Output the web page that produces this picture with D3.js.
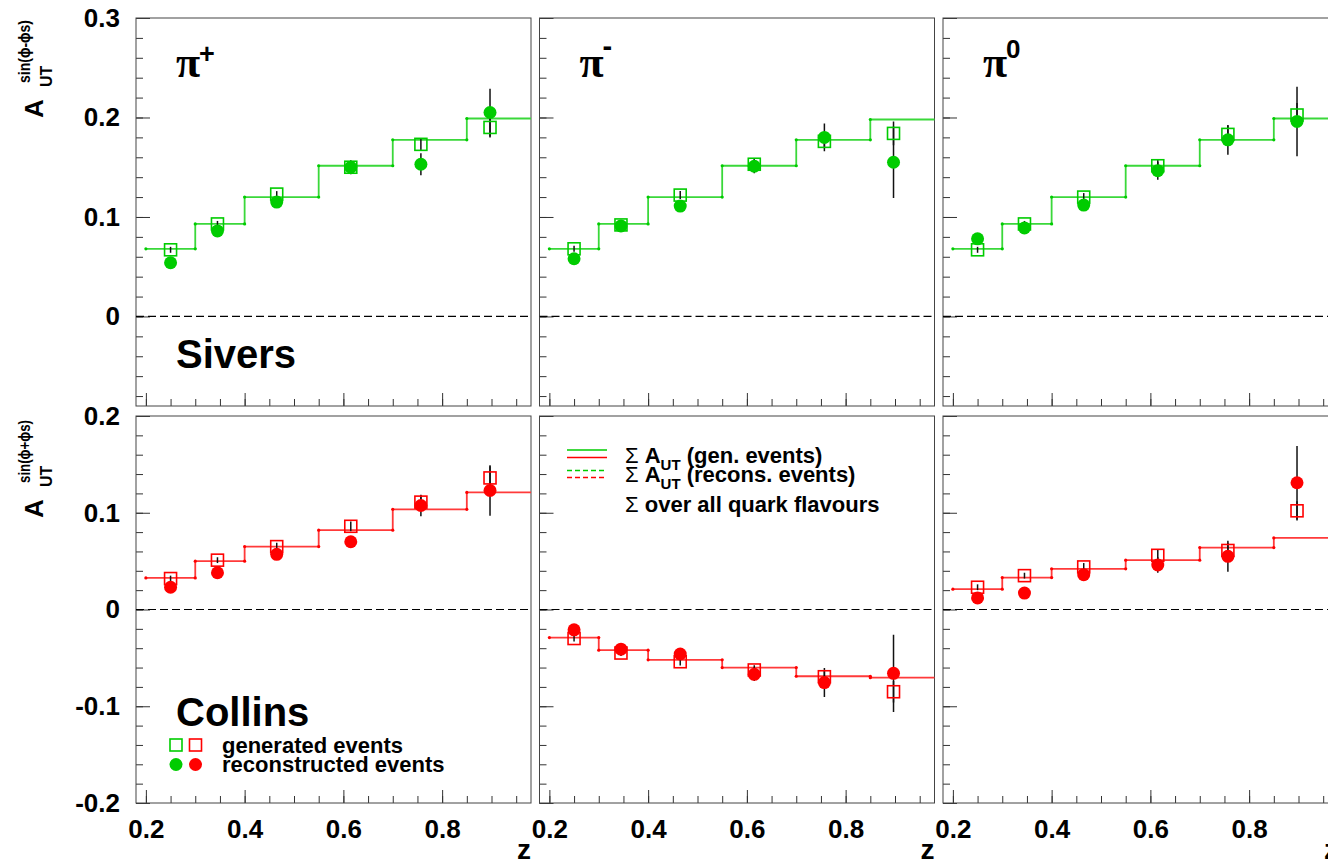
<!DOCTYPE html>
<html>
<head>
<meta charset="utf-8">
<script src="https://cdn.jsdelivr.net/npm/d3@7"></script>
<style>
  body { margin: 0; background: #fff; }
  svg { display: block; font-family: "Liberation Sans", Arial, sans-serif; }
</style>
</head>
<body>
<svg id="chart" width="1328" height="862"></svg>
<script>
// bin centres (z) and histogram bin edges
const zBins = [0.25, 0.345, 0.465, 0.615, 0.757, 0.897];
const binEdges = [0.2, 0.3, 0.4, 0.55, 0.7, 0.85, 1.0];
const pions = ["+", "-", "0"];

// Sivers, pi+
const sivPipHist = [0.068, 0.093, 0.120, 0.1515, 0.1775, 0.199];
const sivPipGen = [0.067, 0.093, 0.123, 0.150, 0.173, 0.190];
const sivPipGenErr = [0.003, 0.003, 0.003, 0.004, 0.006, 0.010];
const sivPipRec = [0.054, 0.086, 0.115, 0.150, 0.153, 0.205];
const sivPipRecErr = [0.004, 0.004, 0.005, 0.007, 0.011, 0.024];
// Sivers, pi-
const sivPimHist = [0.068, 0.093, 0.120, 0.1515, 0.1775, 0.198];
const sivPimGen = [0.068, 0.092, 0.122, 0.153, 0.176, 0.184];
const sivPimGenErr = [0.003, 0.003, 0.004, 0.005, 0.007, 0.012];
const sivPimRec = [0.058, 0.091, 0.111, 0.151, 0.180, 0.155];
const sivPimRecErr = [0.004, 0.004, 0.005, 0.007, 0.014, 0.036];
// Sivers, pi0
const sivPi0Hist = [0.068, 0.093, 0.120, 0.1515, 0.1775, 0.199];
const sivPi0Gen = [0.067, 0.093, 0.120, 0.1515, 0.183, 0.2025];
const sivPi0GenErr = [0.003, 0.003, 0.004, 0.006, 0.009, 0.012];
const sivPi0Rec = [0.078, 0.089, 0.112, 0.1465, 0.1775, 0.196];
const sivPi0RecErr = [0.005, 0.005, 0.006, 0.009, 0.015, 0.035];

// Collins, pi+
const colPipHist = [0.0326, 0.050, 0.065, 0.082, 0.1035, 0.121];
const colPipGen = [0.032, 0.051, 0.065, 0.086, 0.111, 0.136];
const colPipGenErr = [0.003, 0.003, 0.004, 0.005, 0.007, 0.012];
const colPipRec = [0.023, 0.038, 0.057, 0.070, 0.1075, 0.123];
const colPipRecErr = [0.004, 0.004, 0.005, 0.006, 0.011, 0.026];
// Collins, pi-
const colPimHist = [-0.029, -0.042, -0.052, -0.060, -0.069, -0.0705];
const colPimGen = [-0.030, -0.045, -0.054, -0.0625, -0.0695, -0.085];
const colPimGenErr = [0.003, 0.003, 0.004, 0.005, 0.007, 0.011];
const colPimRec = [-0.021, -0.041, -0.046, -0.067, -0.0755, -0.066];
const colPimRecErr = [0.004, 0.004, 0.005, 0.007, 0.015, 0.040];
// Collins, pi0
const colPi0Hist = [0.021, 0.033, 0.042, 0.051, 0.064, 0.074];
const colPi0Gen = [0.023, 0.035, 0.044, 0.056, 0.061, 0.102];
const colPi0GenErr = [0.003, 0.003, 0.004, 0.006, 0.008, 0.010];
const colPi0Rec = [0.012, 0.017, 0.036, 0.046, 0.055, 0.131];
const colPi0RecErr = [0.004, 0.004, 0.005, 0.008, 0.016, 0.038];

// axis ticks
const xMajor = [0.2, 0.4, 0.6, 0.8];
const xMinor = d3.range(0.2, 0.98, 0.05);
const topMajor = [0, 0.1, 0.2, 0.3];
const topMinor = d3.range(-0.08, 0.301, 0.02);
const botMajor = [-0.2, -0.1, 0, 0.1, 0.2];
const botMinor = d3.range(-0.2, 0.201, 0.02);

const GREEN = "#00cc00", GREEN_LINE = "#3ad83a";
const RED = "#ff0000", RED_LINE = "#ff3a3a";

const svg = d3.select("#chart");
const panelLefts = [136, 539.5, 943];
const panelW = 395;
const rows = [
  { top: 18, bottom: 406, domain: [-0.09, 0.3], major: topMajor, minor: topMinor, color: GREEN, line: GREEN_LINE,
    sets: [
      [sivPipHist, sivPipGen, sivPipGenErr, sivPipRec, sivPipRecErr],
      [sivPimHist, sivPimGen, sivPimGenErr, sivPimRec, sivPimRecErr],
      [sivPi0Hist, sivPi0Gen, sivPi0GenErr, sivPi0Rec, sivPi0RecErr]
    ] },
  { top: 416, bottom: 803, domain: [-0.2, 0.2], major: botMajor, minor: botMinor, color: RED, line: RED_LINE,
    sets: [
      [colPipHist, colPipGen, colPipGenErr, colPipRec, colPipRecErr],
      [colPimHist, colPimGen, colPimGenErr, colPimRec, colPimRecErr],
      [colPi0Hist, colPi0Gen, colPi0GenErr, colPi0Rec, colPi0RecErr]
    ] }
];

const fmt = d => d === 0 ? "0" : String(+d.toFixed(1));
const styleAxis = g => {
  g.select(".domain").remove();
  g.selectAll("line").attr("stroke", "#333").attr("stroke-width", 1);
  g.selectAll("text").attr("fill", "#000").attr("font-weight", "bold")
    .attr("font-size", 26).attr("font-family", "Liberation Sans, Arial, sans-serif");
};

rows.forEach((row, ri) => {
  const y = d3.scaleLinear().domain(row.domain).range([row.bottom, row.top]);
  panelLefts.forEach((left, pi) => {
    const x = d3.scaleLinear().domain([0.18, 0.98]).range([left, left + panelW]);
    const [hist, gen, genErr, rec, recErr] = row.sets[pi];
    const clipId = `clip-${ri}-${pi}`;
    svg.append("clipPath").attr("id", clipId).append("rect")
      .attr("x", left).attr("y", row.top).attr("width", panelW).attr("height", row.bottom - row.top);

    const g = svg.append("g");

    // minor ticks
    g.append("g").attr("transform", `translate(${left},0)`)
      .call(d3.axisLeft(y).tickValues(row.minor).tickSize(-7).tickFormat("").tickSizeOuter(0))
      .call(styleAxis);
    g.append("g").attr("transform", `translate(0,${row.bottom})`)
      .call(d3.axisBottom(x).tickValues(xMinor).tickSize(-7).tickFormat("").tickSizeOuter(0))
      .call(styleAxis);
    // major ticks
    g.append("g").attr("transform", `translate(${left},0)`)
      .call(d3.axisLeft(y).tickValues(row.major).tickSize(-14).tickPadding(16).tickSizeOuter(0)
        .tickFormat(pi === 0 ? fmt : ""))
      .call(styleAxis);
    g.append("g").attr("transform", `translate(0,${row.bottom})`)
      .call(d3.axisBottom(x).tickValues(xMajor).tickSize(-13).tickPadding(17).tickSizeOuter(0)
        .tickFormat(ri === 1 ? d3.format(".1f") : ""))
      .call(styleAxis);

    // frame
    g.append("rect").attr("x", left).attr("y", row.top).attr("width", panelW)
      .attr("height", row.bottom - row.top).attr("fill", "none").attr("stroke", "#444").attr("stroke-width", 1);

    const plot = g.append("g").attr("clip-path", `url(#${clipId})`);

    // zero line
    plot.append("line").attr("x1", left).attr("x2", left + panelW)
      .attr("y1", y(0)).attr("y2", y(0))
      .attr("stroke", "#000").attr("stroke-width", 1.2).attr("stroke-dasharray", "8,4");

    // summed asymmetry histogram
    const steps = binEdges.map((e, i) => [e, hist[Math.min(i, hist.length - 1)]]);
    plot.append("path").datum(steps)
      .attr("d", d3.line().x(d => x(d[0])).y(d => y(d[1])).curve(d3.curveStepAfter))
      .attr("fill", "none").attr("stroke", row.line).attr("stroke-width", 1.8);
    const ends = hist.flatMap((v, i) => [[binEdges[i], v], [binEdges[i + 1], v]]);
    plot.selectAll(".dot").data(ends).join("circle")
      .attr("cx", d => x(d[0])).attr("cy", d => y(d[1])).attr("r", 1.6).attr("fill", row.color);

    // error bars
    const errs = zBins.flatMap((z, i) => [[z, gen[i], genErr[i]], [z, rec[i], recErr[i]]]);
    plot.selectAll(".err").data(errs).join("line")
      .attr("x1", d => x(d[0])).attr("x2", d => x(d[0]))
      .attr("y1", d => y(d[1] - d[2])).attr("y2", d => y(d[1] + d[2]))
      .attr("stroke", "#111").attr("stroke-width", 1.5);

    // generated events: open squares
    plot.selectAll(".gen").data(zBins).join("rect")
      .attr("x", (d, i) => x(d) - 6).attr("y", (d, i) => y(gen[i]) - 6)
      .attr("width", 12).attr("height", 12)
      .attr("fill", "none").attr("stroke", row.color).attr("stroke-width", 1.6);

    // reconstructed events: filled circles
    plot.selectAll(".rec").data(zBins).join("circle")
      .attr("cx", d => x(d)).attr("cy", (d, i) => y(rec[i])).attr("r", 6.5)
      .attr("fill", row.color);

    // x-axis title
    if (ri === 1) {
      svg.append("text").attr("x", left + panelW).attr("y", 859)
        .attr("text-anchor", "end").attr("font-size", 28).attr("font-weight", "bold").text("z");
    }
    // pion labels
    if (ri === 0) {
      const lab = svg.append("g").attr("transform", `translate(${left + 40},77)`);
      lab.append("text").attr("font-family", "Liberation Serif, serif").attr("font-weight", "bold")
        .attr("font-size", 44).text("π");
      const sup = lab.append("text").attr("x", 23).attr("font-weight", "bold");
      if (pions[pi] === "+") sup.attr("y", -14).attr("font-size", 27).text("+");
      else if (pions[pi] === "-") sup.attr("y", -21).attr("font-size", 29).text("-");
      else sup.attr("y", -19).attr("font-size", 26).text("0");
    }
  });
});

// channel names
svg.append("text").attr("x", 176).attr("y", 368).attr("font-size", 40).attr("font-weight", "bold").text("Sivers");
svg.append("text").attr("x", 176).attr("y", 726).attr("font-size", 40).attr("font-weight", "bold").text("Collins");

// marker legend (Collins, pi+ panel)
const mk = svg.append("g");
[GREEN, RED].forEach((c, i) => {
  mk.append("rect").attr("x", 170 + i * 19.5).attr("y", 739).attr("width", 12).attr("height", 12)
    .attr("fill", "none").attr("stroke", c).attr("stroke-width", 1.6);
  mk.append("circle").attr("cx", 176 + i * 19.5).attr("cy", 764.5).attr("r", 6.5).attr("fill", c);
});
mk.append("text").attr("x", 222).attr("y", 753).attr("font-size", 22).attr("font-weight", "bold").text("generated events");
mk.append("text").attr("x", 222).attr("y", 772).attr("font-size", 22).attr("font-weight", "bold").text("reconstructed events");

// line legend (Collins, pi- panel)
const lg = svg.append("g");
[[450, GREEN, null], [457.5, RED, null], [470.5, GREEN, "5,3"], [477.5, RED, "5,3"]].forEach(([yy, c, dash]) => {
  lg.append("line").attr("x1", 567).attr("x2", 607).attr("y1", yy).attr("y2", yy)
    .attr("stroke", c).attr("stroke-width", 1.5).attr("stroke-dasharray", dash);
});
const legRow = (yb, rest) => {
  const t = lg.append("text").attr("x", 625).attr("y", yb).attr("font-size", 22).attr("font-weight", "bold");
  t.append("tspan").attr("font-weight", "normal").text("Σ ");
  t.append("tspan").text("A");
  t.append("tspan").attr("font-size", 15).attr("dy", 7).text("UT");
  t.append("tspan").attr("dy", -7).text(" " + rest);
};
legRow(462.5, "(gen. events)");
legRow(481.5, "(recons. events)");
const l3 = lg.append("text").attr("x", 625).attr("y", 511.5).attr("font-size", 22).attr("font-weight", "bold");
l3.append("tspan").attr("font-weight", "normal").text("Σ");
l3.append("tspan").text(" over all quark flavours");

// y-axis titles
const yTitle = (py, sup) => {
  const t = svg.append("g").attr("transform", `translate(43,${py}) rotate(-90)`).attr("font-weight", "bold");
  t.append("text").attr("x", 0).attr("y", 0).attr("font-size", 26).text("A");
  t.append("text").attr("x", 31).attr("y", 9).attr("font-size", 16).text("UT");
  t.append("text").attr("x", 35).attr("y", -13).attr("font-size", 17)
    .attr("textLength", 63).attr("lengthAdjust", "spacingAndGlyphs").text(sup);
};
yTitle(118, "sin(ϕ-ϕs)");
yTitle(518, "sin(ϕ+ϕs)");
</script>
</body>
</html>
